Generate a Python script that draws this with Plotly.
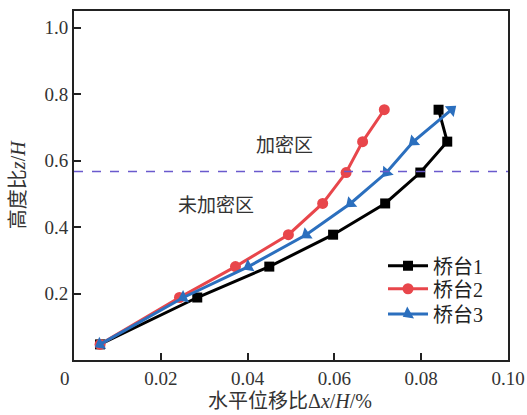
import math
import plotly.graph_objects as go

# Data
y_levels = [0.047, 0.188, 0.281, 0.377, 0.471, 0.564, 0.657, 0.753]
x_abut1 = [0.0060, 0.0284, 0.0450, 0.0597, 0.0717, 0.0798, 0.0860, 0.0840]
x_abut2 = [0.0060, 0.0243, 0.0372, 0.0494, 0.0573, 0.0627, 0.0665, 0.0715]
x_abut3 = [0.0060, 0.0252, 0.0402, 0.0535, 0.0637, 0.0720, 0.0782, 0.0870]
names = ["桥台1", "桥台2", "桥台3"]
dense_line = 0.567
x_ticks = [0.02, 0.04, 0.06, 0.08, 0.10]
x_ticktext = ["0.02", "0.04", "0.06", "0.08", "0.10"]
y_ticks = [0.2, 0.4, 0.6, 0.8, 1.0]
y_ticktext = ["0.2", "0.4", "0.6", "0.8", "1.0"]
x_title = "水平位移比Δ<i>x</i>/<i>H</i>/%"
y_title = "高度比<i>z</i>/<i>H</i>"
zone_labels = ["加密区", "未加密区"]

FONT = "Liberation Serif, Times New Roman, Noto Sans CJK SC, serif"
TXT = "#333333"

# marker orientation (arrowheads along the line) – styling only
SX, SY = 4340.0, 332.5  # approx px per data unit, used only for rotation angles
angles = []
n = len(x_abut3)
for i in range(n):
    if i < n - 1:
        dx = (x_abut3[i] - x_abut3[i + 1]) * SX
        dy = (y_levels[i] - y_levels[i + 1]) * SY
    else:
        dx = (x_abut3[i] - x_abut3[i - 1]) * SX
        dy = (y_levels[i] - y_levels[i - 1]) * SY
    angles.append(math.degrees(math.atan2(dx, dy)) % 360)

fig = go.Figure()
fig.add_trace(go.Scatter(x=x_abut1, y=y_levels, mode="lines+markers", name=names[0],
                         legend="legend",
                         line=dict(color="#000000", width=3),
                         marker=dict(symbol="square", size=10, color="#000000")))
fig.add_trace(go.Scatter(x=x_abut2, y=y_levels, mode="lines+markers", name=names[1],
                         legend="legend2",
                         line=dict(color="#e8464b", width=3),
                         marker=dict(symbol="circle", size=11, color="#e8464b")))
fig.add_trace(go.Scatter(x=x_abut3, y=y_levels, mode="lines+markers", name=names[2],
                         legend="legend3",
                         line=dict(color="#2b6fbe", width=3),
                         marker=dict(symbol="triangle-up", size=12, color="#2b6fbe",
                                     angle=angles)))

fig.add_shape(type="line", xref="paper", yref="y", x0=0, x1=1, y0=dense_line, y1=dense_line,
              line=dict(color="#6a5acd", width=1.5, dash="dash"))

fig.add_annotation(x=0.0484, y=0.645, text=zone_labels[0], showarrow=False,
                   font=dict(family=FONT, size=19, color=TXT))
fig.add_annotation(x=0.0328, y=0.465, text=zone_labels[1], showarrow=False,
                   font=dict(family=FONT, size=19, color=TXT))
fig.add_annotation(x=-0.037, y=-0.052, xref="paper", yref="paper", text="0", showarrow=False,
                   font=dict(family=FONT, size=19, color=TXT), yanchor="middle")
# axis titles
fig.add_annotation(x=0.498, y=-0.1175, xref="paper", yref="paper", text=x_title, showarrow=False,
                   font=dict(family=FONT, size=20, color=TXT), xanchor="center", yanchor="middle")
fig.add_annotation(x=-0.129, y=0.501, xref="paper", yref="paper", text=y_title, showarrow=False,
                   textangle=-90, font=dict(family=FONT, size=20, color=TXT),
                   xanchor="center", yanchor="middle")

leg_common = dict(x=0.712, xanchor="left", yanchor="top", bgcolor="rgba(0,0,0,0)",
                  font=dict(family=FONT, size=20, color="#222222"), itemwidth=40)

fig.update_layout(
    width=527, height=415,
    margin=dict(l=74, r=19, t=11, b=55, autoexpand=False),
    paper_bgcolor="white", plot_bgcolor="white",
    font=dict(family=FONT, size=19, color=TXT),
    showlegend=True,
    legend=dict(y=0.326, **leg_common),
    legend2=dict(y=0.260, **leg_common),
    legend3=dict(y=0.188, **leg_common),
    xaxis=dict(range=[0, 0.1], tickvals=x_ticks, ticktext=x_ticktext, automargin=False,
               ticks="inside", ticklen=7, tickwidth=2, tickcolor="#222222",
               showline=True, linecolor="#222222", linewidth=2, mirror=True,
               showgrid=False, zeroline=False),
    yaxis=dict(range=[0, 1.05], tickvals=y_ticks, ticktext=y_ticktext, automargin=False,
               ticks="inside", ticklen=7, tickwidth=2, tickcolor="#222222",
               showline=True, linecolor="#222222", linewidth=2, mirror=True,
               showgrid=False, zeroline=False),
)

fig.write_html("out.html", config={"displayModeBar": False},
               post_script="document.body.style.margin='0';document.body.style.overflow='hidden';")
